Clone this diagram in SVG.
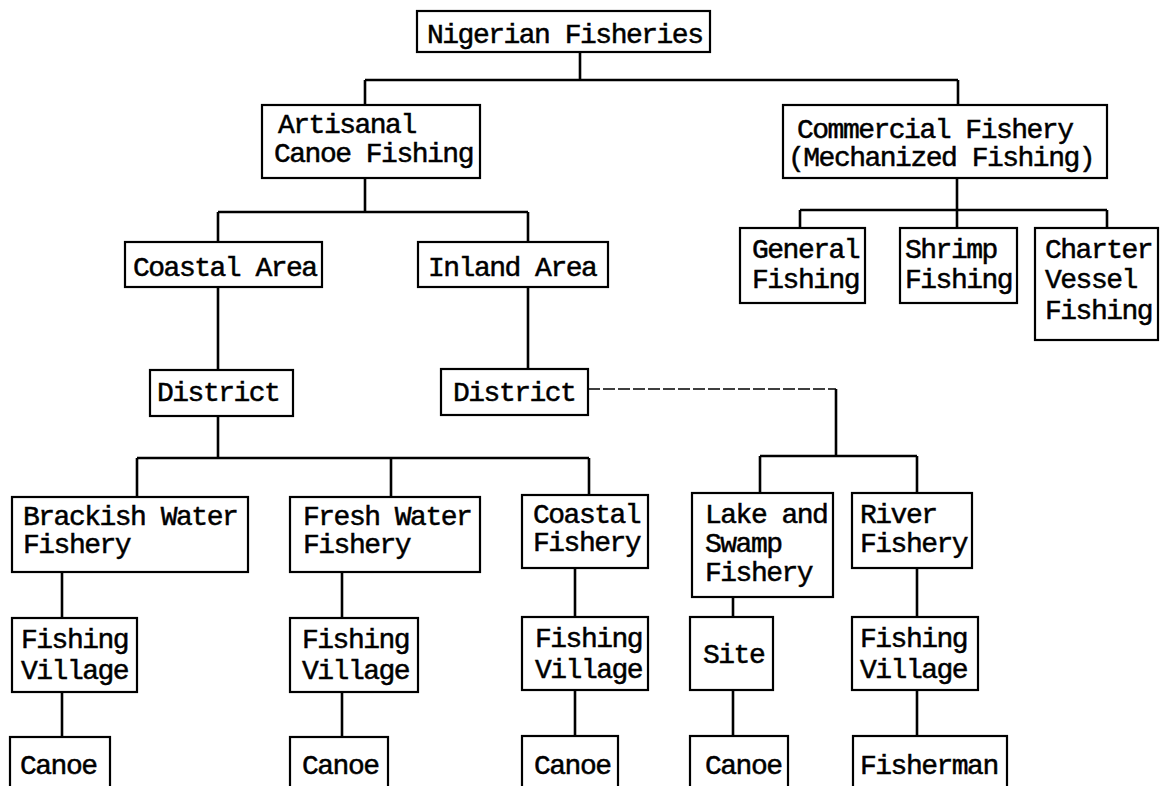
<svg xmlns="http://www.w3.org/2000/svg" width="1162" height="786" viewBox="0 0 1162 786">
<style>
.box{fill:#fff;stroke:#000;stroke-width:2.2}
.t{font-family:"Liberation Mono","DejaVu Sans Mono",monospace;font-size:28px;letter-spacing:-1.5px;fill:#000;stroke:#000;stroke-width:0.5}
.c{fill:none;stroke:#000;stroke-width:2.6}
.d{fill:none;stroke:#000;stroke-width:1.6;stroke-dasharray:12 3}
</style>
<rect width="1162" height="786" fill="#fff"/>
<g id="connectors">
<path class="c" d="M580 52V80M365 80H958M365 80V105M958 80V105"/>
<path class="c" d="M365 178V212M218 212H528M218 212V242M528 212V242"/>
<path class="c" d="M957 178V210M800 210H1107M800 210V228M957 210V228M1107 210V228"/>
<path class="c" d="M218 287V370M528 287V369"/>
<path class="c" d="M218 416V458M137 458H589M137 458V497M391 458V497M589 458V495"/>
<path class="d" d="M588 389H836"/>
<path class="c" d="M836 389V456M760 456H917M760 456V493M917 456V493"/>
<path class="c" d="M62 572V618M342 572V618M575 568V617M733 597V617M917 568V617"/>
<path class="c" d="M62 692V737M342 692V737M575 690V736M733 690V736M917 690V736"/>
</g>
<g id="root"><rect class="box" x="417" y="11" width="293" height="41"/><text class="t" x="427" y="43">Nigerian Fisheries</text></g>
<g id="artisanal"><rect class="box" x="262" y="105" width="218" height="73"/><text class="t" x="278" y="133">Artisanal</text><text class="t" x="274" y="162">Canoe Fishing</text></g>
<g id="commercial"><rect class="box" x="783" y="105" width="324" height="73"/><text class="t" x="797" y="138">Commercial Fishery</text><text class="t" x="788" y="166">(Mechanized Fishing)</text></g>
<g id="general"><rect class="box" x="740" y="228" width="125" height="75"/><text class="t" x="752" y="258">General</text><text class="t" x="752" y="288">Fishing</text></g>
<g id="shrimp"><rect class="box" x="900" y="228" width="117" height="75"/><text class="t" x="905" y="258">Shrimp</text><text class="t" x="905" y="288">Fishing</text></g>
<g id="charter"><rect class="box" x="1035" y="228" width="123" height="112"/><text class="t" x="1045" y="258">Charter</text><text class="t" x="1045" y="288">Vessel</text><text class="t" x="1045" y="319">Fishing</text></g>
<g id="coastal-area"><rect class="box" x="125" y="242" width="197" height="45"/><text class="t" x="133" y="276">Coastal Area</text></g>
<g id="inland-area"><rect class="box" x="418" y="242" width="190" height="45"/><text class="t" x="428" y="276">Inland Area</text></g>
<g id="district-coastal"><rect class="box" x="150" y="370" width="143" height="46"/><text class="t" x="157" y="401">District</text></g>
<g id="district-inland"><rect class="box" x="441" y="369" width="147" height="46"/><text class="t" x="453" y="401">District</text></g>
<g id="brackish"><rect class="box" x="12" y="497" width="236" height="75"/><text class="t" x="23" y="525">Brackish Water</text><text class="t" x="23" y="553">Fishery</text></g>
<g id="fresh"><rect class="box" x="290" y="497" width="190" height="75"/><text class="t" x="303" y="525">Fresh Water</text><text class="t" x="303" y="553">Fishery</text></g>
<g id="coastal-fishery"><rect class="box" x="522" y="495" width="126" height="73"/><text class="t" x="533" y="523">Coastal</text><text class="t" x="533" y="551">Fishery</text></g>
<g id="lake"><rect class="box" x="692" y="493" width="141" height="104"/><text class="t" x="705" y="523">Lake and</text><text class="t" x="705" y="552">Swamp</text><text class="t" x="705" y="581">Fishery</text></g>
<g id="river"><rect class="box" x="852" y="493" width="120" height="75"/><text class="t" x="860" y="523">River</text><text class="t" x="860" y="552">Fishery</text></g>
<g id="village1"><rect class="box" x="12" y="618" width="125" height="74"/><text class="t" x="21" y="648">Fishing</text><text class="t" x="21" y="679">Village</text></g>
<g id="village2"><rect class="box" x="290" y="618" width="128" height="74"/><text class="t" x="302" y="648">Fishing</text><text class="t" x="302" y="679">Village</text></g>
<g id="village3"><rect class="box" x="522" y="617" width="126" height="73"/><text class="t" x="535" y="647">Fishing</text><text class="t" x="535" y="678">Village</text></g>
<g id="site"><rect class="box" x="690" y="617" width="83" height="73"/><text class="t" x="703" y="663">Site</text></g>
<g id="village5"><rect class="box" x="852" y="617" width="126" height="73"/><text class="t" x="860" y="647">Fishing</text><text class="t" x="860" y="678">Village</text></g>
<g id="canoe1"><rect class="box" x="10" y="737" width="100" height="70"/><text class="t" x="20" y="774">Canoe</text></g>
<g id="canoe2"><rect class="box" x="290" y="737" width="98" height="70"/><text class="t" x="302" y="774">Canoe</text></g>
<g id="canoe3"><rect class="box" x="522" y="736" width="96" height="70"/><text class="t" x="534" y="774">Canoe</text></g>
<g id="canoe4"><rect class="box" x="690" y="736" width="98" height="70"/><text class="t" x="705" y="774">Canoe</text></g>
<g id="fisherman"><rect class="box" x="853" y="736" width="154" height="70"/><text class="t" x="860" y="774">Fisherman</text></g>
</svg>
